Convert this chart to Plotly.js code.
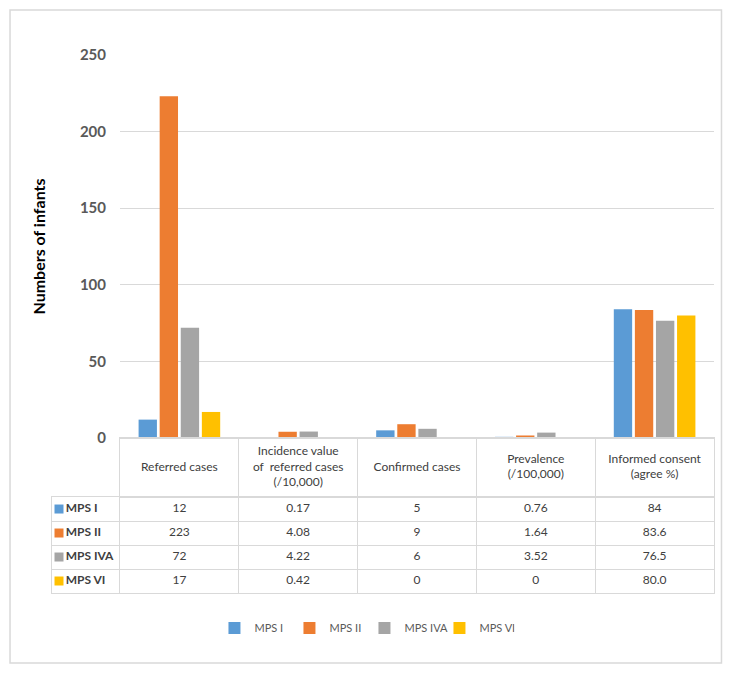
<!DOCTYPE html>
<html>
<head>
<meta charset="utf-8">
<script src="https://cdn.plot.ly/plotly-3.0.1.min.js"></script>
<style>
html,body{margin:0;padding:0;background:#fff;}
#chart{width:731px;height:674px;}
</style>
</head>
<body>
<div id="chart"></div>
<script>
// ---- data ----
const categories = ['Referred cases', 'Incidence value<br>of  referred cases<br>(/10,000)', 'Confirmed cases', 'Prevalence<br>(/100,000)', 'Informed consent<br>(agree %)'];
const seriesNames = ['MPS I', 'MPS II', 'MPS IVA', 'MPS VI'];
const mpsI   = ['12', '0.17', '5', '0.76', '84'];
const mpsII  = ['223', '4.08', '9', '1.64', '83.6'];
const mpsIVA = ['72', '4.22', '6', '3.52', '76.5'];
const mpsVI  = ['17', '0.42', '0', '0', '80.0'];
const yTicks = [0, 50, 100, 150, 200, 250];

// ---- styling / layout ----
const seriesValues = [mpsI, mpsII, mpsIVA, mpsVI];
const colors = ['#5B9BD5', '#ED7D31', '#A5A5A5', '#FFC000'];
const FONT = 'Lato, "Open Sans", sans-serif';
const GRID = '#D9D9D9';
const split = 0.1027;                 // paper fraction taken by the label column
const nCat = categories.length;
const xLeft = -0.5 - nCat * split / (1 - split);  // left edge of table in column units
const colUnitPerPx = 1 / 118.8;
const catIdx = categories.map((c, j) => j);
const innerBounds = categories.slice(1).map((c, j) => j + 0.5);

const traces = seriesNames.map((name, i) => ({
  type: 'bar',
  name: name,
  x: categories,
  y: seriesValues[i].map(Number),
  marker: {color: colors[i]},
  xaxis: 'x', yaxis: 'y',
  hoverinfo: 'skip'
}));

// header row of the data table
traces.push({
  type: 'scatter', mode: 'text', xaxis: 'x2', yaxis: 'y2',
  x: catIdx, y: categories.map(() => 0),
  text: categories, textposition: 'middle center',
  textfont: {family: FONT, size: 12, color: '#404040'},
  showlegend: false, hoverinfo: 'skip', cliponaxis: false
});

// body cells
const bx = [], by = [], bt = [];
seriesValues.forEach((s, i) => s.forEach((v, j) => { bx.push(j); by.push(i); bt.push(v); }));
traces.push({
  type: 'scatter', mode: 'text', xaxis: 'x3', yaxis: 'y3',
  x: bx, y: by, text: bt, textposition: 'middle center',
  textfont: {family: FONT, size: 12, color: '#404040'},
  showlegend: false, hoverinfo: 'skip', cliponaxis: false
});

// row labels with colour keys
traces.push({
  type: 'scatter', mode: 'markers+text', xaxis: 'x3', yaxis: 'y3',
  x: seriesNames.map(() => xLeft + 7 * colUnitPerPx),
  y: seriesNames.map((n, i) => i),
  text: seriesNames.map(n => '<b>' + n + '</b>'),
  textposition: 'middle right',
  marker: {symbol: 'square', size: 9, color: colors},
  textfont: {family: FONT, size: 12, color: '#404040'},
  showlegend: false, hoverinfo: 'skip', cliponaxis: false
});

const hideAx = {showticklabels: false, ticks: '', zeroline: false, fixedrange: true};

const layout = {
  width: 731, height: 674,
  margin: {l: 52, r: 17, t: 55, b: 81},
  paper_bgcolor: 'white', plot_bgcolor: 'white',
  barmode: 'group',
  bargap: 0.29,
  bargroupgap: 0.13,
  showlegend: true,
  legend: {
    orientation: 'h', x: 0.472, xanchor: 'center', y: -0.065, yanchor: 'middle',
    font: {family: FONT, size: 11, color: '#595959'},
    itemwidth: 30, traceorder: 'normal', entrywidth: 30, entrywidthmode: 'pixels'
  },
  xaxis: Object.assign({}, hideAx, {
    domain: [split, 1], showgrid: false, showline: false
  }),
  yaxis: {
    domain: [0.2881, 1],
    range: [0, 250],
    tickvals: yTicks,
    ticktext: yTicks.map(String),
    showgrid: true, gridcolor: GRID, gridwidth: 1,
    zeroline: true, zerolinecolor: GRID, zerolinewidth: 1,
    showline: false, ticks: '',
    ticklabelstandoff: 13,
    tickfont: {family: FONT, size: 15, color: '#595959', weight: 'bold'},
    title: {text: 'Numbers of infants', font: {family: FONT, size: 16, color: '#000000', weight: 'bold'}, standoff: 30},
    automargin: false, fixedrange: true
  },
  // header
  xaxis2: Object.assign({}, hideAx, {
    domain: [split, 1], anchor: 'y2', range: [-0.5, nCat - 0.5],
    tickvals: innerBounds, showgrid: true, gridcolor: GRID,
    showline: true, mirror: true, linecolor: GRID, linewidth: 1
  }),
  yaxis2: Object.assign({}, hideAx, {
    domain: [0.1784, 0.2881], anchor: 'x2', range: [-0.5, 0.5],
    showgrid: false, showline: true, mirror: true, linecolor: GRID, linewidth: 1
  }),
  // body
  xaxis3: Object.assign({}, hideAx, {
    domain: [0, 1], anchor: 'y3', range: [xLeft, nCat - 0.5],
    tickvals: categories.map((c, j) => j - 0.5),
    showgrid: true, gridcolor: GRID,
    showline: true, mirror: true, linecolor: GRID, linewidth: 1
  }),
  yaxis3: Object.assign({}, hideAx, {
    domain: [0, 0.1784], anchor: 'x3', range: [seriesNames.length - 0.5, -0.5],
    tickvals: seriesNames.slice(1).map((n, i) => i + 0.5),
    showgrid: true, gridcolor: GRID,
    showline: true, mirror: true, linecolor: GRID, linewidth: 1
  }),
  shapes: [{
    type: 'rect', xref: 'paper', yref: 'paper',
    x0: -0.0634, x1: 1.0113, y0: -0.130, y1: 1.0836,
    line: {color: GRID, width: 1.5}, fillcolor: 'rgba(0,0,0,0)', layer: 'below'
  }]
};

Plotly.newPlot('chart', traces, layout, {displayModeBar: false, staticPlot: true});
</script>
</body>
</html>
